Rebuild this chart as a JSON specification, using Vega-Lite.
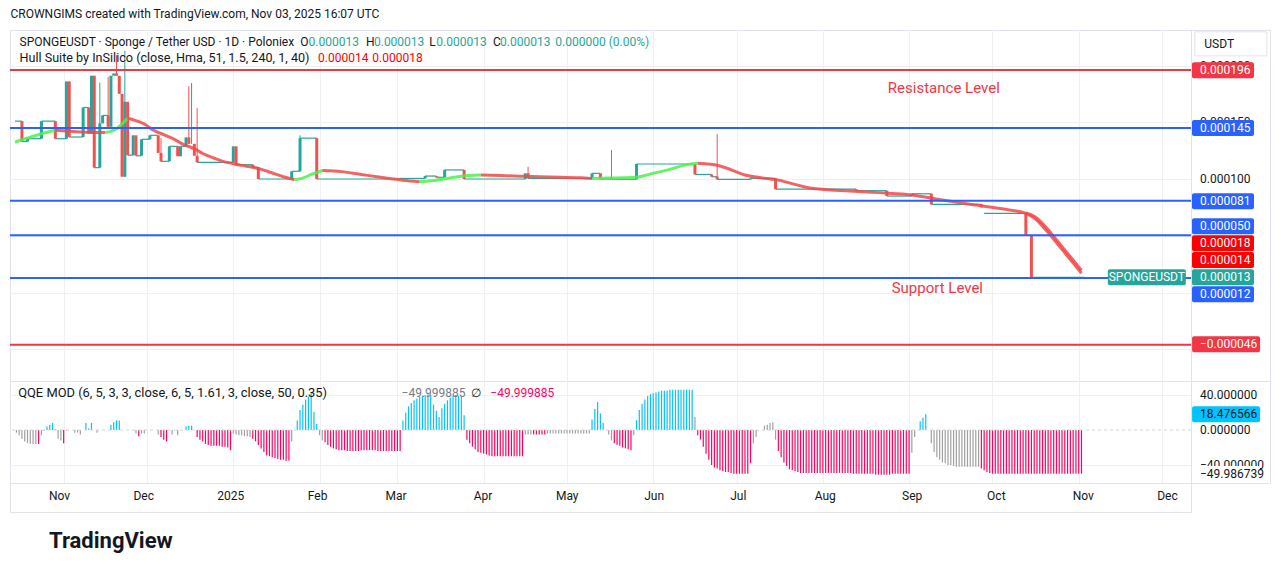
{
"$schema": "https://vega.github.io/schema/vega-lite/v6.json",
"background": "#ffffff",
"padding": {"left": 8, "top": 8, "right": 9, "bottom": 0},
"title": {"text": "CROWNGIMS created with TradingView.com, Nov 03, 2025 16:07 UTC", "anchor": "start", "fontSize": 12, "fontWeight": "normal", "color": "#131722", "offset": 8, "dx": 2},
"config": {
  "font": "Roboto",
  "view": {"stroke": "#e0e3eb", "strokeWidth": 1},
  "legend": {"disable": true},
  "axis": {"title": null, "labels": false, "ticks": false, "tickSize": 0, "domain": false, "grid": true, "gridColor": "#eef0f3", "labelColor": "#131722", "labelFontSize": 12}
},
"datasets": {
  "flats": [
    {"a":"2024-10-14T12:00:00Z","b":"2024-10-17","p":0.000151},
    {"a":"2024-10-17","b":"2024-10-19","p":0.000133},
    {"a":"2024-10-19","b":"2024-10-24","p":0.0001355},
    {"a":"2024-10-24","b":"2024-10-29","p":0.000151},
    {"a":"2024-10-29","b":"2024-11-02","p":0.0001355},
    {"a":"2024-11-03","b":"2024-11-08","p":0.000137},
    {"a":"2024-11-08","b":"2024-11-10","p":0.000163},
    {"a":"2024-11-12","b":"2024-11-14","p":0.00011},
    {"a":"2024-11-15","b":"2024-11-17","p":0.000156},
    {"a":"2024-11-24","b":"2024-11-26","p":0.000121},
    {"a":"2024-11-27","b":"2024-11-29","p":0.0001205},
    {"a":"2024-11-29","b":"2024-12-02","p":0.000135},
    {"a":"2024-12-02","b":"2024-12-05","p":0.0001385},
    {"a":"2024-12-06","b":"2024-12-09","p":0.0001156},
    {"a":"2024-12-09","b":"2024-12-12","p":0.0001288},
    {"a":"2024-12-13","b":"2024-12-15","p":0.0001288},
    {"a":"2024-12-19","b":"2025-01-01","p":0.0001147},
    {"a":"2025-01-02","b":"2025-01-08","p":0.0001126},
    {"a":"2025-01-08","b":"2025-01-10","p":0.0001103},
    {"a":"2025-01-10","b":"2025-01-22","p":0.0001},
    {"a":"2025-01-22","b":"2025-01-25","p":0.0001068},
    {"a":"2025-01-25","b":"2025-01-31","p":0.000136},
    {"a":"2025-01-31","b":"2025-03-02","p":0.0001},
    {"a":"2025-03-02","b":"2025-03-11","p":0.0001005},
    {"a":"2025-03-11","b":"2025-03-15","p":0.0001026},
    {"a":"2025-03-15","b":"2025-03-18","p":0.0001015},
    {"a":"2025-03-18","b":"2025-03-25","p":0.000108},
    {"a":"2025-03-25","b":"2025-04-16","p":0.0001},
    {"a":"2025-04-17","b":"2025-05-10","p":0.0001006},
    {"a":"2025-05-10","b":"2025-05-13","p":0.000105},
    {"a":"2025-05-13","b":"2025-05-17","p":0.0001},
    {"a":"2025-05-17","b":"2025-05-26","p":0.0000998},
    {"a":"2025-05-26","b":"2025-06-16","p":0.0001132},
    {"a":"2025-06-16","b":"2025-06-22","p":0.000104},
    {"a":"2025-06-22","b":"2025-06-24","p":0.000102},
    {"a":"2025-06-24","b":"2025-07-06","p":0.0000997},
    {"a":"2025-07-06","b":"2025-07-15","p":0.0001006},
    {"a":"2025-07-15","b":"2025-08-13","p":0.000091},
    {"a":"2025-08-13","b":"2025-08-24","p":0.0000897},
    {"a":"2025-08-24","b":"2025-09-02","p":0.000085},
    {"a":"2025-09-02","b":"2025-09-09","p":0.000087},
    {"a":"2025-09-09","b":"2025-09-27","p":0.0000777},
    {"a":"2025-09-28","b":"2025-10-13","p":0.0000698},
    {"a":"2025-10-15","b":"2025-11-03","p":0.0000134}
  ],
  "candles": [
    {"d":"2024-10-17","o":0.000151,"c":0.000133,"dir":"down"},
    {"d":"2024-10-19","o":0.000133,"c":0.0001355,"dir":"up"},
    {"d":"2024-10-24","o":0.0001355,"c":0.000151,"dir":"up"},
    {"d":"2024-10-29","o":0.000151,"c":0.0001355,"dir":"down"},
    {"d":"2024-11-02","o":0.0001355,"c":0.000186,"dir":"up"},
    {"d":"2024-11-03","o":0.000186,"c":0.000137,"dir":"down"},
    {"d":"2024-11-08","o":0.000137,"c":0.000163,"dir":"up"},
    {"d":"2024-11-10","o":0.000163,"c":0.00014,"dir":"down"},
    {"d":"2024-11-11","o":0.00014,"c":0.000191,"dir":"up"},
    {"d":"2024-11-12","o":0.000191,"c":0.00011,"dir":"down"},
    {"d":"2024-11-14","o":0.00011,"c":0.000149,"dir":"up","h":0.000185,"l":0.00011},
    {"d":"2024-11-15","o":0.000149,"c":0.000156,"dir":"up"},
    {"d":"2024-11-17","o":0.000156,"c":0.000146,"dir":"down","h":0.00019,"l":0.000146},
    {"d":"2024-11-18","o":0.000146,"c":0.000191,"dir":"up"},
    {"d":"2024-11-19","o":0.000191,"c":0.000193,"dir":"up"},
    {"d":"2024-11-20","o":0.000193,"c":0.000191,"dir":"down","h":0.000209,"l":0.000191},
    {"d":"2024-11-21","o":0.000191,"c":0.000175,"dir":"down"},
    {"d":"2024-11-22","o":0.000175,"c":0.000102,"dir":"down"},
    {"d":"2024-11-23","o":0.000102,"c":0.000168,"dir":"up","h":0.000213,"l":0.000102},
    {"d":"2024-11-24","o":0.000168,"c":0.000121,"dir":"down"},
    {"d":"2024-11-26","o":0.000121,"c":0.0001385,"dir":"up"},
    {"d":"2024-11-27","o":0.0001385,"c":0.0001205,"dir":"down"},
    {"d":"2024-11-29","o":0.0001205,"c":0.000135,"dir":"up"},
    {"d":"2024-12-02","o":0.000135,"c":0.0001385,"dir":"up"},
    {"d":"2024-12-05","o":0.0001385,"c":0.000123,"dir":"down"},
    {"d":"2024-12-06","o":0.000123,"c":0.0001156,"dir":"down","h":0.000136,"l":0.0001156},
    {"d":"2024-12-09","o":0.0001156,"c":0.0001288,"dir":"up"},
    {"d":"2024-12-12","o":0.0001288,"c":0.00012,"dir":"down"},
    {"d":"2024-12-13","o":0.00012,"c":0.0001288,"dir":"up"},
    {"d":"2024-12-15","o":0.0001288,"c":0.0001367,"dir":"up"},
    {"d":"2024-12-16","o":0.0001367,"c":0.000131,"dir":"down","h":0.0001817,"l":0.000131},
    {"d":"2024-12-17","o":0.000131,"c":0.000131,"dir":"up","h":0.0001846,"l":0.000131},
    {"d":"2024-12-18","o":0.000131,"c":0.0001205,"dir":"down"},
    {"d":"2024-12-19","o":0.0001205,"c":0.0001147,"dir":"down","h":0.0001626,"l":0.0001147},
    {"d":"2025-01-01","o":0.0001147,"c":0.0001288,"dir":"up"},
    {"d":"2025-01-02","o":0.0001288,"c":0.0001126,"dir":"down"},
    {"d":"2025-01-08","o":0.0001126,"c":0.0001103,"dir":"down"},
    {"d":"2025-01-10","o":0.0001103,"c":0.0001,"dir":"down"},
    {"d":"2025-01-22","o":0.0001,"c":0.0001068,"dir":"up"},
    {"d":"2025-01-25","o":0.0001068,"c":0.000136,"dir":"up","h":0.0001385,"l":0.0001068},
    {"d":"2025-01-31","o":0.000136,"c":0.0001,"dir":"down"},
    {"d":"2025-03-02","o":0.0001,"c":0.0001005,"dir":"up"},
    {"d":"2025-03-11","o":0.0001005,"c":0.0001026,"dir":"up"},
    {"d":"2025-03-15","o":0.0001026,"c":0.0001015,"dir":"down"},
    {"d":"2025-03-18","o":0.0001015,"c":0.000108,"dir":"up"},
    {"d":"2025-03-25","o":0.000108,"c":0.0001,"dir":"down"},
    {"d":"2025-04-16","o":0.0001,"c":0.000105,"dir":"up"},
    {"d":"2025-04-17","o":0.000105,"c":0.0001006,"dir":"down","h":0.0001108,"l":0.0001006},
    {"d":"2025-05-10","o":0.0001006,"c":0.000105,"dir":"up"},
    {"d":"2025-05-13","o":0.000105,"c":0.0001,"dir":"down"},
    {"d":"2025-05-17","o":0.0001013,"c":0.0000998,"dir":"down","h":0.0001256,"l":0.0000998},
    {"d":"2025-05-26","o":0.0000998,"c":0.0001132,"dir":"up"},
    {"d":"2025-06-16","o":0.0001132,"c":0.000104,"dir":"down"},
    {"d":"2025-06-22","o":0.000104,"c":0.000102,"dir":"down"},
    {"d":"2025-06-24","o":0.000102,"c":0.0000997,"dir":"down","h":0.0001396,"l":0.0000997},
    {"d":"2025-07-06","o":0.0000997,"c":0.0001006,"dir":"up"},
    {"d":"2025-07-15","o":0.0001006,"c":0.000091,"dir":"down"},
    {"d":"2025-08-13","o":0.000091,"c":0.0000897,"dir":"down"},
    {"d":"2025-08-24","o":0.0000897,"c":0.000085,"dir":"down"},
    {"d":"2025-09-02","o":0.000085,"c":0.000087,"dir":"up"},
    {"d":"2025-09-09","o":0.000087,"c":0.0000777,"dir":"down"},
    {"d":"2025-09-27","o":0.0000777,"c":0.000075,"dir":"down"},
    {"d":"2025-10-13","o":0.0000698,"c":0.0000507,"dir":"down"},
    {"d":"2025-10-15","o":0.0000507,"c":0.0000134,"dir":"down"}
  ],
  "hull": [
    {"d":"2024-10-14T12:00:00Z","v":0.0001325,"s":1,"dir":"up"},{"d":"2024-10-19","v":0.0001361,"s":1,"dir":"up"},{"d":"2024-10-25","v":0.0001405,"s":1,"dir":"up"},{"d":"2024-10-29","v":0.0001429,"s":1,"dir":"up"},
    {"d":"2024-10-29","v":0.0001429,"s":2,"dir":"down"},{"d":"2024-11-07","v":0.0001414,"s":2,"dir":"down"},{"d":"2024-11-16","v":0.0001409,"s":2,"dir":"down"},
    {"d":"2024-11-16","v":0.0001409,"s":3,"dir":"up"},{"d":"2024-11-20","v":0.0001443,"s":3,"dir":"up"},{"d":"2024-11-22","v":0.0001487,"s":3,"dir":"up"},{"d":"2024-11-24","v":0.0001535,"s":3,"dir":"up"},
    {"d":"2024-11-24","v":0.0001535,"s":4,"dir":"down"},{"d":"2024-11-26","v":0.0001522,"s":4,"dir":"down"},{"d":"2024-11-30","v":0.0001485,"s":4,"dir":"down"},{"d":"2024-12-03","v":0.0001434,"s":4,"dir":"down"},{"d":"2024-12-07","v":0.000139,"s":4,"dir":"down"},{"d":"2024-12-11","v":0.0001347,"s":4,"dir":"down"},{"d":"2024-12-14","v":0.0001305,"s":4,"dir":"down"},{"d":"2024-12-18","v":0.0001267,"s":4,"dir":"down"},{"d":"2024-12-21","v":0.0001225,"s":4,"dir":"down"},{"d":"2024-12-25","v":0.0001185,"s":4,"dir":"down"},{"d":"2024-12-28","v":0.0001158,"s":4,"dir":"down"},{"d":"2025-01-01","v":0.0001135,"s":4,"dir":"down"},{"d":"2025-01-04","v":0.000112,"s":4,"dir":"down"},{"d":"2025-01-08","v":0.0001103,"s":4,"dir":"down"},{"d":"2025-01-12","v":0.0001078,"s":4,"dir":"down"},{"d":"2025-01-15","v":0.0001053,"s":4,"dir":"down"},{"d":"2025-01-19","v":0.000102,"s":4,"dir":"down"},{"d":"2025-01-23","v":0.0000994,"s":4,"dir":"down"},
    {"d":"2025-01-23","v":0.0000994,"s":5,"dir":"up"},{"d":"2025-01-26","v":0.0001008,"s":5,"dir":"up"},{"d":"2025-01-29","v":0.000104,"s":5,"dir":"up"},{"d":"2025-02-02","v":0.0001075,"s":5,"dir":"up"},
    {"d":"2025-02-02","v":0.0001075,"s":6,"dir":"down"},{"d":"2025-02-09","v":0.0001065,"s":6,"dir":"down"},{"d":"2025-02-16","v":0.000104,"s":6,"dir":"down"},{"d":"2025-02-23","v":0.0001015,"s":6,"dir":"down"},{"d":"2025-03-03","v":0.000099,"s":6,"dir":"down"},{"d":"2025-03-09","v":0.0000976,"s":6,"dir":"down"},
    {"d":"2025-03-09","v":0.0000976,"s":7,"dir":"up"},{"d":"2025-03-13","v":0.0000985,"s":7,"dir":"up"},{"d":"2025-03-19","v":0.0001005,"s":7,"dir":"up"},{"d":"2025-03-24","v":0.0001025,"s":7,"dir":"up"},{"d":"2025-03-31","v":0.0001035,"s":7,"dir":"up"},
    {"d":"2025-03-31","v":0.0001035,"s":8,"dir":"down"},{"d":"2025-04-07","v":0.000103,"s":8,"dir":"down"},{"d":"2025-04-14","v":0.0001025,"s":8,"dir":"down"},{"d":"2025-04-21","v":0.000102,"s":8,"dir":"down"},{"d":"2025-04-29","v":0.0001015,"s":8,"dir":"down"},{"d":"2025-05-06","v":0.000101,"s":8,"dir":"down"},{"d":"2025-05-10","v":0.0001005,"s":8,"dir":"down"},
    {"d":"2025-05-10","v":0.0001005,"s":9,"dir":"up"},{"d":"2025-05-16","v":0.0001008,"s":9,"dir":"up"},{"d":"2025-05-22","v":0.000101,"s":9,"dir":"up"},{"d":"2025-05-27","v":0.000102,"s":9,"dir":"up"},{"d":"2025-06-01","v":0.000105,"s":9,"dir":"up"},{"d":"2025-06-07","v":0.0001085,"s":9,"dir":"up"},{"d":"2025-06-12","v":0.000112,"s":9,"dir":"up"},{"d":"2025-06-17","v":0.0001138,"s":9,"dir":"up"},
    {"d":"2025-06-17","v":0.0001138,"s":10,"dir":"down"},{"d":"2025-06-25","v":0.0001115,"s":10,"dir":"down"},{"d":"2025-07-04","v":0.0001035,"s":10,"dir":"down"},{"d":"2025-07-16","v":0.000099,"s":10,"dir":"down"},{"d":"2025-07-28","v":0.0000918,"s":10,"dir":"down"},{"d":"2025-08-09","v":0.0000897,"s":10,"dir":"down"},{"d":"2025-08-21","v":0.000088,"s":10,"dir":"down"},{"d":"2025-09-02","v":0.000086,"s":10,"dir":"down"},{"d":"2025-09-13","v":0.0000815,"s":10,"dir":"down"},{"d":"2025-09-25","v":0.000077,"s":10,"dir":"down"},{"d":"2025-10-07","v":0.0000727,"s":10,"dir":"down"},{"d":"2025-10-13","v":0.0000698,"s":10,"dir":"down"},{"d":"2025-10-16","v":0.0000655,"s":10,"dir":"down"},{"d":"2025-10-19","v":0.0000585,"s":10,"dir":"down"},{"d":"2025-10-22","v":0.00005,"s":10,"dir":"down"},{"d":"2025-10-25","v":0.000041,"s":10,"dir":"down"},{"d":"2025-10-28","v":0.000032,"s":10,"dir":"down"},{"d":"2025-10-31","v":0.000023,"s":10,"dir":"down"},{"d":"2025-11-02","v":0.000017,"s":10,"dir":"down"},
    {"d":"2025-10-13","v":0.0000702,"s":11,"dir":"down"},{"d":"2025-10-16","v":0.0000672,"s":11,"dir":"down"},{"d":"2025-10-19","v":0.0000608,"s":11,"dir":"down"},{"d":"2025-10-22","v":0.0000525,"s":11,"dir":"down"},{"d":"2025-10-25","v":0.0000435,"s":11,"dir":"down"},{"d":"2025-10-28","v":0.0000345,"s":11,"dir":"down"},{"d":"2025-10-31","v":0.0000255,"s":11,"dir":"down"},{"d":"2025-11-02","v":0.0000195,"s":11,"dir":"down"}
  ],
  "levels": [
    {"p":0.000196,"k":"res"},{"p":0.000145,"k":"lvl"},{"p":0.0000808,"k":"lvl"},{"p":0.0000505,"k":"lvl"},{"p":0.0000128,"k":"lvl"},{"p":-0.000046,"k":"res"}
  ],
  "notes": [
    {"d":"2025-09-13T12:00:00Z","p":0.0001802,"t":"Resistance Level"},
    {"d":"2025-09-11T04:00:00Z","p":0.000004,"t":"Support Level"}
  ],
  "plegend": [
    {"d":"2024-10-16T03:00:00Z","p":0.0002207,"t":"SPONGEUSDT · Sponge / Tether USD · 1D · Poloniex","k":"dark"},
    {"d":"2025-01-25T02:00:00Z","p":0.0002207,"t":"O","k":"dark"},
    {"d":"2025-01-28T02:00:00Z","p":0.0002207,"t":"0.000013","k":"teal"},
    {"d":"2025-02-17T17:00:00Z","p":0.0002207,"t":"H","k":"dark"},
    {"d":"2025-02-20T14:00:00Z","p":0.0002207,"t":"0.000013","k":"teal"},
    {"d":"2025-03-12T12:00:00Z","p":0.0002207,"t":"L","k":"dark"},
    {"d":"2025-03-15T00:00:00Z","p":0.0002207,"t":"0.000013","k":"teal"},
    {"d":"2025-04-04T10:00:00Z","p":0.0002207,"t":"C","k":"dark"},
    {"d":"2025-04-06T22:00:00Z","p":0.0002207,"t":"0.000013","k":"teal"},
    {"d":"2025-04-26T19:00:00Z","p":0.0002207,"t":"0.000000 (0.00%)","k":"teal"},
    {"d":"2024-10-16T03:00:00Z","p":0.0002066,"t":"Hull Suite by InSilico (close, Hma, 51, 1.5, 240, 1, 40)","k":"dark"},
    {"d":"2025-01-31T12:00:00Z","p":0.0002066,"t":"0.000014","k":"red"},
    {"d":"2025-02-20T00:00:00Z","p":0.0002066,"t":"0.000018","k":"red"}
  ],
  "last": [{"d":"2025-11-25T12:00:00Z","p":0.0000134,"t":"SPONGEUSDT"}],
  "ptags": [
    {"p":0.0002,"t":"0.000200","k":"plain"},
    {"p":0.00015,"t":"0.000150","k":"plain"},
    {"p":0.0001,"t":"0.000100","k":"plain"},
    {"p":0.0001958,"t":"0.000196","k":"red"},
    {"p":0.0001449,"t":"0.000145","k":"blue"},
    {"p":0.0000804,"t":"0.000081","k":"blue"},
    {"p":0.0000583,"t":"0.000050","k":"blue"},
    {"p":0.0000433,"t":"0.000018","k":"hot"},
    {"p":0.0000286,"t":"0.000014","k":"hot"},
    {"p":0.0000134,"t":"0.000013","k":"teal"},
    {"p":-0.0000016,"t":"0.000012","k":"blue"},
    {"p":-0.0000456,"t":"−0.000046","k":"red"}
  ],
  "unit": [{"p":0.0002191,"t":"USDT"}],
  "qtags": [
    {"p":40,"t":"40.000000","k":"plain"},
    {"p":0,"t":"0.000000","k":"plain"},
    {"p":-40,"t":"−40.000000","k":"plain"},
    {"p":18,"t":"18.476566","k":"cyan"},
    {"p":-50.3,"t":"−49.986739","k":"white"}
  ],
  "qlegend": [
    {"d":"2024-10-15T15:00:00Z","p":42.3,"t":"QQE MOD (6, 5, 3, 3, close, 6, 5, 1.61, 3, close, 50, 0.35)","k":"dark"},
    {"d":"2025-03-02T12:00:00Z","p":42.3,"t":"−49.999885","k":"gray"},
    {"d":"2025-03-27T09:00:00Z","p":42.3,"t":"∅","k":"dark"},
    {"d":"2025-04-03T10:00:00Z","p":42.3,"t":"−49.999885","k":"pink"}
  ],
  "qqe": [
    {"d":"2024-10-15","v":-3,"k":"g"},{"d":"2024-10-16","v":-6,"k":"g"},{"d":"2024-10-17","v":-10,"k":"g"},{"d":"2024-10-18","v":-13,"k":"g"},{"d":"2024-10-19","v":-15,"k":"g"},{"d":"2024-10-20","v":-16,"k":"g"},{"d":"2024-10-21","v":-16,"k":"g"},{"d":"2024-10-22","v":-16,"k":"g"},{"d":"2024-10-23","v":-16,"k":"r"},{"d":"2024-10-24","v":-6,"k":"g"},{"d":"2024-10-25","v":-1,"k":"g"},{"d":"2024-10-26","v":4,"k":"b"},{"d":"2024-10-27","v":6,"k":"b"},{"d":"2024-10-28","v":8,"k":"b"},{"d":"2024-10-29","v":1,"k":"g"},{"d":"2024-10-30","v":-10,"k":"g"},{"d":"2024-10-31","v":-12,"k":"g"},
    {"d":"2024-11-01","v":-15,"k":"r"},{"d":"2024-11-02","v":-1,"k":"g"},{"d":"2024-11-05","v":-3,"k":"g"},{"d":"2024-11-06","v":-3,"k":"g"},{"d":"2024-11-07","v":-5,"k":"g"},{"d":"2024-11-09","v":8,"k":"b"},{"d":"2024-11-10","v":2,"k":"g"},{"d":"2024-11-11","v":8,"k":"b"},{"d":"2024-11-13","v":-3,"k":"g"},{"d":"2024-11-18","v":6,"k":"b"},{"d":"2024-11-19","v":9,"k":"b"},{"d":"2024-11-20","v":11,"k":"b"},{"d":"2024-11-21","v":11,"k":"b"},{"d":"2024-11-27","v":-4,"k":"g"},{"d":"2024-11-28","v":-7,"k":"r"},{"d":"2024-11-29","v":-4,"k":"g"},{"d":"2024-11-30","v":-4,"k":"g"},
    {"d":"2024-12-05","v":-5,"k":"g"},{"d":"2024-12-06","v":-8,"k":"r"},{"d":"2024-12-07","v":-11,"k":"r"},{"d":"2024-12-08","v":-13,"k":"r"},{"d":"2024-12-10","v":-5,"k":"g"},{"d":"2024-12-12","v":-6,"k":"g"},{"d":"2024-12-15","v":4,"k":"b"},{"d":"2024-12-16","v":5,"k":"b"},{"d":"2024-12-17","v":5,"k":"b"},{"d":"2024-12-19","v":-8,"k":"r"},{"d":"2024-12-20","v":-11,"k":"r"},{"d":"2024-12-21","v":-13,"k":"r"},{"d":"2024-12-22","v":-16,"k":"r"},{"d":"2024-12-23","v":-17,"k":"r"},{"d":"2024-12-24","v":-18,"k":"r"},{"d":"2024-12-25","v":-18,"k":"r"},{"d":"2024-12-26","v":-18,"k":"r"},{"d":"2024-12-27","v":-18,"k":"r"},{"d":"2024-12-28","v":-19,"k":"r"},{"d":"2024-12-29","v":-19,"k":"r"},{"d":"2024-12-30","v":-20,"k":"r"},{"d":"2024-12-31","v":-23,"k":"r"},
    {"d":"2025-01-01","v":-4,"k":"g"},{"d":"2025-01-02","v":-5,"k":"g"},{"d":"2025-01-03","v":-6,"k":"g"},{"d":"2025-01-04","v":-6,"k":"g"},{"d":"2025-01-05","v":-7,"k":"g"},{"d":"2025-01-06","v":-7,"k":"g"},{"d":"2025-01-07","v":-8,"k":"g"},{"d":"2025-01-08","v":-10,"k":"r"},{"d":"2025-01-09","v":-13,"k":"r"},{"d":"2025-01-10","v":-17,"k":"r"},{"d":"2025-01-11","v":-21,"k":"r"},{"d":"2025-01-12","v":-25,"k":"r"},{"d":"2025-01-13","v":-29,"k":"r"},{"d":"2025-01-14","v":-30,"k":"r"},{"d":"2025-01-15","v":-31,"k":"r"},{"d":"2025-01-16","v":-32,"k":"r"},{"d":"2025-01-17","v":-33,"k":"r"},{"d":"2025-01-18","v":-34,"k":"r"},{"d":"2025-01-19","v":-34,"k":"r"},{"d":"2025-01-20","v":-35,"k":"r"},{"d":"2025-01-21","v":-35,"k":"r"},{"d":"2025-01-22","v":-13,"k":"g"},{"d":"2025-01-24","v":11,"k":"b"},{"d":"2025-01-25","v":23,"k":"b"},{"d":"2025-01-26","v":29,"k":"b"},{"d":"2025-01-27","v":35,"k":"b"},{"d":"2025-01-28","v":38,"k":"b"},{"d":"2025-01-29","v":42,"k":"b"},{"d":"2025-01-30","v":21,"k":"b"},{"d":"2025-01-31","v":7,"k":"b"},
    {"d":"2025-02-01","v":-6,"k":"g"},{"d":"2025-02-02","v":-12,"k":"g"},{"d":"2025-02-03","v":-14,"k":"r"},{"d":"2025-02-04","v":-17,"k":"r"},{"d":"2025-02-05","v":-19,"k":"r"},{"d":"2025-02-06","v":-21,"k":"r"},{"d":"2025-02-07","v":-22,"k":"r"},{"d":"2025-02-08","v":-23,"k":"r"},{"d":"2025-02-09","v":-23,"k":"r"},{"d":"2025-02-10","v":-23,"k":"r"},{"d":"2025-02-11","v":-24,"k":"r"},{"d":"2025-02-12","v":-24,"k":"r"},{"d":"2025-02-13","v":-24,"k":"r"},{"d":"2025-02-14","v":-24,"k":"r"},{"d":"2025-02-15","v":-24,"k":"r"},{"d":"2025-02-16","v":-23,"k":"r"},{"d":"2025-02-17","v":-23,"k":"r"},{"d":"2025-02-18","v":-23,"k":"r"},{"d":"2025-02-19","v":-23,"k":"r"},{"d":"2025-02-20","v":-23,"k":"r"},{"d":"2025-02-21","v":-23,"k":"r"},{"d":"2025-02-22","v":-24,"k":"r"},{"d":"2025-02-23","v":-24,"k":"r"},{"d":"2025-02-24","v":-24,"k":"r"},{"d":"2025-02-25","v":-24,"k":"r"},{"d":"2025-02-26","v":-24,"k":"r"},{"d":"2025-02-27","v":-24,"k":"r"},{"d":"2025-02-28","v":-24,"k":"r"},
    {"d":"2025-03-01","v":-24,"k":"r"},{"d":"2025-03-02","v":-24,"k":"r"},{"d":"2025-03-03","v":11,"k":"b"},{"d":"2025-03-04","v":20,"k":"b"},{"d":"2025-03-05","v":27,"k":"b"},{"d":"2025-03-06","v":31,"k":"b"},{"d":"2025-03-07","v":34,"k":"b"},{"d":"2025-03-08","v":36,"k":"b"},{"d":"2025-03-09","v":38,"k":"b"},{"d":"2025-03-10","v":39,"k":"b"},{"d":"2025-03-11","v":40,"k":"b"},{"d":"2025-03-12","v":41,"k":"b"},{"d":"2025-03-13","v":40,"k":"b"},{"d":"2025-03-14","v":29,"k":"b"},{"d":"2025-03-15","v":22,"k":"b"},{"d":"2025-03-16","v":15,"k":"b"},{"d":"2025-03-17","v":25,"k":"b"},{"d":"2025-03-18","v":30,"k":"b"},{"d":"2025-03-19","v":34,"k":"b"},{"d":"2025-03-20","v":37,"k":"b"},{"d":"2025-03-21","v":39,"k":"b"},{"d":"2025-03-22","v":40,"k":"b"},{"d":"2025-03-23","v":39,"k":"b"},{"d":"2025-03-24","v":38,"k":"b"},{"d":"2025-03-25","v":17,"k":"b"},{"d":"2025-03-26","v":-11,"k":"r"},{"d":"2025-03-27","v":-15,"k":"r"},{"d":"2025-03-28","v":-19,"k":"r"},{"d":"2025-03-29","v":-22,"k":"r"},{"d":"2025-03-30","v":-25,"k":"r"},{"d":"2025-03-31","v":-26,"k":"r"},
    {"d":"2025-04-01","v":-27,"k":"r"},{"d":"2025-04-02","v":-28,"k":"r"},{"d":"2025-04-03","v":-29,"k":"r"},{"d":"2025-04-04","v":-30,"k":"r"},{"d":"2025-04-05","v":-30,"k":"r"},{"d":"2025-04-06","v":-30,"k":"r"},{"d":"2025-04-07","v":-30,"k":"r"},{"d":"2025-04-08","v":-30,"k":"r"},{"d":"2025-04-09","v":-30,"k":"r"},{"d":"2025-04-10","v":-30,"k":"r"},{"d":"2025-04-11","v":-30,"k":"r"},{"d":"2025-04-12","v":-30,"k":"r"},{"d":"2025-04-13","v":-30,"k":"r"},{"d":"2025-04-14","v":-30,"k":"r"},{"d":"2025-04-15","v":-30,"k":"r"},{"d":"2025-04-16","v":-5,"k":"g"},{"d":"2025-04-17","v":-5,"k":"g"},{"d":"2025-04-18","v":-5,"k":"g"},{"d":"2025-04-19","v":-5,"k":"r"},{"d":"2025-04-20","v":-5,"k":"r"},{"d":"2025-04-21","v":-5,"k":"r"},{"d":"2025-04-22","v":-5,"k":"r"},{"d":"2025-04-23","v":-5,"k":"r"},{"d":"2025-04-24","v":-4,"k":"g"},{"d":"2025-04-25","v":-4,"k":"g"},{"d":"2025-04-26","v":-4,"k":"g"},{"d":"2025-04-27","v":-4,"k":"g"},{"d":"2025-04-28","v":-4,"k":"g"},{"d":"2025-04-29","v":-4,"k":"g"},{"d":"2025-04-30","v":-4,"k":"g"},
    {"d":"2025-05-01","v":-4,"k":"g"},{"d":"2025-05-02","v":-4,"k":"g"},{"d":"2025-05-03","v":-4,"k":"g"},{"d":"2025-05-04","v":-4,"k":"g"},{"d":"2025-05-05","v":-4,"k":"g"},{"d":"2025-05-06","v":-4,"k":"g"},{"d":"2025-05-07","v":-4,"k":"g"},{"d":"2025-05-08","v":-4,"k":"g"},{"d":"2025-05-09","v":-4,"k":"g"},{"d":"2025-05-10","v":12,"k":"b"},{"d":"2025-05-11","v":24,"k":"b"},{"d":"2025-05-12","v":32,"k":"b"},{"d":"2025-05-13","v":19,"k":"b"},{"d":"2025-05-14","v":8,"k":"b"},{"d":"2025-05-16","v":-5,"k":"g"},{"d":"2025-05-17","v":-12,"k":"g"},{"d":"2025-05-18","v":-15,"k":"r"},{"d":"2025-05-19","v":-17,"k":"r"},{"d":"2025-05-20","v":-18,"k":"r"},{"d":"2025-05-21","v":-20,"k":"r"},{"d":"2025-05-22","v":-21,"k":"r"},{"d":"2025-05-23","v":-22,"k":"r"},{"d":"2025-05-24","v":-23,"k":"r"},{"d":"2025-05-25","v":-6,"k":"g"},{"d":"2025-05-26","v":11,"k":"b"},{"d":"2025-05-27","v":23,"k":"b"},{"d":"2025-05-28","v":30,"k":"b"},{"d":"2025-05-29","v":35,"k":"b"},{"d":"2025-05-30","v":39,"k":"b"},{"d":"2025-05-31","v":41,"k":"b"},
    {"d":"2025-06-01","v":42,"k":"b"},{"d":"2025-06-02","v":43,"k":"b"},{"d":"2025-06-03","v":44,"k":"b"},{"d":"2025-06-04","v":45,"k":"b"},{"d":"2025-06-05","v":45,"k":"b"},{"d":"2025-06-06","v":45,"k":"b"},{"d":"2025-06-07","v":46,"k":"b"},{"d":"2025-06-08","v":46,"k":"b"},{"d":"2025-06-09","v":46,"k":"b"},{"d":"2025-06-10","v":46,"k":"b"},{"d":"2025-06-11","v":46,"k":"b"},{"d":"2025-06-12","v":46,"k":"b"},{"d":"2025-06-13","v":46,"k":"b"},{"d":"2025-06-14","v":46,"k":"b"},{"d":"2025-06-15","v":46,"k":"b"},{"d":"2025-06-16","v":15,"k":"g"},{"d":"2025-06-17","v":-6,"k":"r"},{"d":"2025-06-18","v":-11,"k":"r"},{"d":"2025-06-19","v":-19,"k":"r"},{"d":"2025-06-20","v":-27,"k":"r"},{"d":"2025-06-21","v":-34,"k":"r"},{"d":"2025-06-22","v":-40,"k":"r"},{"d":"2025-06-23","v":-43,"k":"r"},{"d":"2025-06-24","v":-44,"k":"r"},{"d":"2025-06-25","v":-46,"k":"r"},{"d":"2025-06-26","v":-47,"k":"r"},{"d":"2025-06-27","v":-48,"k":"r"},{"d":"2025-06-28","v":-48,"k":"r"},{"d":"2025-06-29","v":-49,"k":"r"},{"d":"2025-06-30","v":-50,"k":"r"},
    {"d":"2025-07-01","v":-50,"k":"r"},{"d":"2025-07-02","v":-50,"k":"r"},{"d":"2025-07-03","v":-50,"k":"r"},{"d":"2025-07-04","v":-50,"k":"r"},{"d":"2025-07-05","v":-50,"k":"r"},{"d":"2025-07-06","v":-38,"k":"r"},{"d":"2025-07-07","v":-15,"k":"g"},{"d":"2025-07-08","v":-8,"k":"g"},{"d":"2025-07-11","v":5,"k":"g"},{"d":"2025-07-12","v":6,"k":"g"},{"d":"2025-07-13","v":8,"k":"g"},{"d":"2025-07-14","v":9,"k":"g"},{"d":"2025-07-15","v":-11,"k":"g"},{"d":"2025-07-16","v":-24,"k":"r"},{"d":"2025-07-17","v":-31,"k":"r"},{"d":"2025-07-18","v":-37,"k":"r"},{"d":"2025-07-19","v":-41,"k":"r"},{"d":"2025-07-20","v":-45,"k":"r"},{"d":"2025-07-21","v":-46,"k":"r"},{"d":"2025-07-22","v":-47,"k":"r"},{"d":"2025-07-23","v":-48,"k":"r"},{"d":"2025-07-24","v":-49,"k":"r"},{"d":"2025-07-25","v":-49,"k":"r"},{"d":"2025-07-26","v":-49,"k":"r"},{"d":"2025-07-27","v":-49,"k":"r"},{"d":"2025-07-28","v":-49,"k":"r"},{"d":"2025-07-29","v":-49,"k":"r"},{"d":"2025-07-30","v":-49,"k":"r"},{"d":"2025-07-31","v":-49,"k":"r"},
    {"d":"2025-08-01","v":-49,"k":"r"},{"d":"2025-08-02","v":-49,"k":"r"},{"d":"2025-08-03","v":-49,"k":"r"},{"d":"2025-08-04","v":-49,"k":"r"},{"d":"2025-08-05","v":-49,"k":"r"},{"d":"2025-08-06","v":-49,"k":"r"},{"d":"2025-08-07","v":-49,"k":"r"},{"d":"2025-08-08","v":-49,"k":"r"},{"d":"2025-08-09","v":-49,"k":"r"},{"d":"2025-08-10","v":-49,"k":"r"},{"d":"2025-08-11","v":-49,"k":"r"},{"d":"2025-08-12","v":-50,"k":"r"},{"d":"2025-08-13","v":-50,"k":"r"},{"d":"2025-08-14","v":-50,"k":"r"},{"d":"2025-08-15","v":-50,"k":"r"},{"d":"2025-08-16","v":-50,"k":"r"},{"d":"2025-08-17","v":-50,"k":"r"},{"d":"2025-08-18","v":-50,"k":"r"},{"d":"2025-08-19","v":-50,"k":"r"},{"d":"2025-08-20","v":-51,"k":"r"},{"d":"2025-08-21","v":-51,"k":"r"},{"d":"2025-08-22","v":-51,"k":"r"},{"d":"2025-08-23","v":-51,"k":"r"},{"d":"2025-08-24","v":-51,"k":"r"},{"d":"2025-08-25","v":-51,"k":"r"},{"d":"2025-08-26","v":-50,"k":"r"},{"d":"2025-08-27","v":-50,"k":"r"},{"d":"2025-08-28","v":-50,"k":"r"},{"d":"2025-08-29","v":-50,"k":"r"},{"d":"2025-08-30","v":-50,"k":"r"},{"d":"2025-08-31","v":-50,"k":"r"},
    {"d":"2025-09-01","v":-50,"k":"r"},{"d":"2025-09-02","v":-26,"k":"g"},{"d":"2025-09-03","v":-8,"k":"g"},{"d":"2025-09-05","v":10,"k":"b"},{"d":"2025-09-06","v":14,"k":"b"},{"d":"2025-09-07","v":18,"k":"b"},{"d":"2025-09-09","v":-15,"k":"g"},{"d":"2025-09-10","v":-25,"k":"g"},{"d":"2025-09-11","v":-31,"k":"g"},{"d":"2025-09-12","v":-34,"k":"g"},{"d":"2025-09-13","v":-37,"k":"g"},{"d":"2025-09-14","v":-38,"k":"g"},{"d":"2025-09-15","v":-40,"k":"g"},{"d":"2025-09-16","v":-40,"k":"g"},{"d":"2025-09-17","v":-41,"k":"g"},{"d":"2025-09-18","v":-42,"k":"g"},{"d":"2025-09-19","v":-42,"k":"g"},{"d":"2025-09-20","v":-42,"k":"g"},{"d":"2025-09-21","v":-42,"k":"g"},{"d":"2025-09-22","v":-42,"k":"g"},{"d":"2025-09-23","v":-42,"k":"g"},{"d":"2025-09-24","v":-42,"k":"g"},{"d":"2025-09-25","v":-42,"k":"g"},{"d":"2025-09-26","v":-42,"k":"g"},{"d":"2025-09-27","v":-44,"k":"r"},{"d":"2025-09-28","v":-46,"k":"r"},{"d":"2025-09-29","v":-48,"k":"r"},{"d":"2025-09-30","v":-49,"k":"r"},
    {"d":"2025-10-01","v":-50,"k":"r"},{"d":"2025-10-02","v":-50,"k":"r"},{"d":"2025-10-03","v":-50,"k":"r"},{"d":"2025-10-04","v":-50,"k":"r"},{"d":"2025-10-05","v":-50,"k":"r"},{"d":"2025-10-06","v":-50,"k":"r"},{"d":"2025-10-07","v":-50,"k":"r"},{"d":"2025-10-08","v":-50,"k":"r"},{"d":"2025-10-09","v":-50,"k":"r"},{"d":"2025-10-10","v":-50,"k":"r"},{"d":"2025-10-11","v":-50,"k":"r"},{"d":"2025-10-12","v":-50,"k":"r"},{"d":"2025-10-13","v":-50,"k":"r"},{"d":"2025-10-14","v":-50,"k":"r"},{"d":"2025-10-15","v":-50,"k":"r"},{"d":"2025-10-16","v":-50,"k":"r"},{"d":"2025-10-17","v":-50,"k":"r"},{"d":"2025-10-18","v":-50,"k":"r"},{"d":"2025-10-19","v":-50,"k":"r"},{"d":"2025-10-20","v":-50,"k":"r"},{"d":"2025-10-21","v":-50,"k":"r"},{"d":"2025-10-22","v":-50,"k":"r"},{"d":"2025-10-23","v":-50,"k":"r"},{"d":"2025-10-24","v":-50,"k":"r"},{"d":"2025-10-25","v":-50,"k":"r"},{"d":"2025-10-26","v":-50,"k":"r"},{"d":"2025-10-27","v":-50,"k":"r"},{"d":"2025-10-28","v":-50,"k":"r"},{"d":"2025-10-29","v":-50,"k":"r"},{"d":"2025-10-30","v":-50,"k":"r"},{"d":"2025-10-31","v":-50,"k":"r"},
    {"d":"2025-11-01","v":-50,"k":"r"},{"d":"2025-11-02","v":-50,"k":"r"}
  ]
},
"bounds": "flush",
"spacing": 0,
"columns": 2,
"align": "each",
"concat": [
    {"width": 1181, "height": 351,
     "resolve": {"scale": {"color": "independent"}},
     "layer": [
       {"data": {"name": "flats"}, "mark": {"type": "rule", "color": "#26a69a", "strokeWidth": 1.2},
        "encoding": {
          "x": {"field": "a", "type": "temporal", "scale": {"type": "utc", "domain": [{"year":2024,"month":10,"date":14,"hours":12,"utc":true},{"year":2025,"month":12,"date":9,"hours":14,"utc":true}]},
                "axis": {"values": [{"year":2024,"month":11,"date":1,"utc":true},{"year":2024,"month":12,"date":1,"utc":true},{"year":2025,"month":1,"date":1,"utc":true},{"year":2025,"month":2,"date":1,"utc":true},{"year":2025,"month":3,"date":1,"utc":true},{"year":2025,"month":4,"date":1,"utc":true},{"year":2025,"month":5,"date":1,"utc":true},{"year":2025,"month":6,"date":1,"utc":true},{"year":2025,"month":7,"date":1,"utc":true},{"year":2025,"month":8,"date":1,"utc":true},{"year":2025,"month":9,"date":1,"utc":true},{"year":2025,"month":10,"date":1,"utc":true},{"year":2025,"month":11,"date":1,"utc":true},{"year":2025,"month":12,"date":1,"utc":true}]}},
          "x2": {"field": "b"},
          "y": {"field": "p", "type": "quantitative", "scale": {"domain": [-0.00007797, 0.00023128], "nice": false, "zero": false},
                "axis": {"values": [-0.00005, 0, 0.00005, 0.0001, 0.00015, 0.0002]}}
        }},
       {"data": {"name": "candles"}, "transform": [{"filter": "isValid(datum.h)"}], "mark": {"type": "rule", "strokeWidth": 1},
        "encoding": {"x": {"field": "d", "type": "temporal"}, "y": {"field": "h", "type": "quantitative"}, "y2": {"field": "l"},
          "color": {"field": "dir", "type": "nominal", "scale": {"domain": ["up", "down"], "range": ["#26a69a", "#ef5350"]}}}},
       {"data": {"name": "candles"}, "mark": {"type": "bar", "width": 3},
        "encoding": {"x": {"field": "d", "type": "temporal"}, "y": {"field": "o", "type": "quantitative"}, "y2": {"field": "c"},
          "color": {"field": "dir", "type": "nominal", "scale": {"domain": ["up", "down"], "range": ["#26a69a", "#ef5350"]}}}},
       {"data": {"name": "hull"}, "mark": {"type": "line", "strokeWidth": 3, "interpolate": "monotone", "opacity": 0.85},
        "encoding": {"x": {"field": "d", "type": "temporal"}, "y": {"field": "v", "type": "quantitative"},
          "color": {"field": "dir", "type": "nominal", "scale": {"domain": ["up", "down"], "range": ["#4cf04c", "#f24848"]}},
          "detail": {"field": "s", "type": "nominal"}}},
       {"data": {"name": "levels"}, "mark": {"type": "rule", "strokeWidth": 2},
        "encoding": {"y": {"field": "p", "type": "quantitative"},
          "color": {"field": "k", "type": "nominal", "scale": {"domain": ["res", "lvl"], "range": ["#f23645", "#2962ff"]}}}},
       {"data": {"name": "notes"}, "mark": {"type": "text", "fontSize": 15, "color": "#f23645", "align": "center", "baseline": "middle"},
        "encoding": {"x": {"field": "d", "type": "temporal"}, "y": {"field": "p", "type": "quantitative"}, "text": {"field": "t"}}},
       {"data": {"name": "plegend"}, "transform": [{"filter": "indexof(datum.t, 'Hull') != 0"}], "mark": {"type": "text", "fontSize": 12, "align": "left", "baseline": "middle"},
        "encoding": {"x": {"field": "d", "type": "temporal"}, "y": {"field": "p", "type": "quantitative"}, "text": {"field": "t"},
          "color": {"field": "k", "type": "nominal", "scale": {"domain": ["dark", "teal", "red"], "range": ["#131722", "#26a69a", "#ff0000"]}}}},
       {"data": {"name": "plegend"}, "transform": [{"filter": "indexof(datum.t, 'Hull') == 0"}], "mark": {"type": "text", "fontSize": 12.6, "align": "left", "baseline": "middle", "color": "#131722"},
        "encoding": {"x": {"field": "d", "type": "temporal"}, "y": {"field": "p", "type": "quantitative"}, "text": {"field": "t"}}},
       {"data": {"name": "last"}, "mark": {"type": "tick", "orient": "horizontal", "size": 78, "thickness": 16, "cornerRadius": 2, "color": "#26a69a", "opacity": 1},
        "encoding": {"x": {"field": "d", "type": "temporal"}, "y": {"field": "p", "type": "quantitative"}}},
       {"data": {"name": "last"}, "mark": {"type": "text", "fontSize": 12, "color": "#ffffff", "align": "center", "baseline": "middle"},
        "encoding": {"x": {"field": "d", "type": "temporal"}, "y": {"field": "p", "type": "quantitative"}, "text": {"field": "t"}}}
     ]},
    {"width": 79, "height": 351,
     "resolve": {"scale": {"color": "independent"}},
     "layer": [
       {"data": {"name": "unit"}, "mark": {"type": "point", "shape": "M-36,-12H36V12H-36Z", "size": 4, "filled": true, "fill": "#ffffff", "stroke": "#e0e3eb", "strokeWidth": 1, "opacity": 1},
        "encoding": {"x": {"datum": 0.504, "type": "quantitative", "scale": {"domain": [0, 1]}, "axis": null},
          "y": {"field": "p", "type": "quantitative", "scale": {"domain": [-0.00007797, 0.00023128], "nice": false, "zero": false}, "axis": null}}},
       {"data": {"name": "unit"}, "mark": {"type": "text", "fontSize": 12, "align": "left", "baseline": "middle", "color": "#131722"},
        "encoding": {"x": {"datum": 0.168, "type": "quantitative"}, "y": {"field": "p", "type": "quantitative"}, "text": {"field": "t"}}},
       {"data": {"name": "ptags"}, "transform": [{"filter": "datum.k == 'plain'"}], "mark": {"type": "text", "fontSize": 12, "align": "left", "baseline": "middle", "color": "#131722"},
        "encoding": {"x": {"datum": 0.114, "type": "quantitative"}, "y": {"field": "p", "type": "quantitative"}, "text": {"field": "t"}}},
       {"data": {"name": "ptags"}, "transform": [{"filter": "datum.k != 'plain' && length(datum.t) <= 8"}], "mark": {"type": "tick", "orient": "horizontal", "size": 62, "thickness": 16, "cornerRadius": 2, "opacity": 1},
        "encoding": {"x": {"datum": 0.405, "type": "quantitative"}, "y": {"field": "p", "type": "quantitative"},
          "color": {"field": "k", "type": "nominal", "scale": {"domain": ["red", "blue", "hot", "teal", "cyan", "white"], "range": ["#f23645", "#2962ff", "#ff0000", "#26a69a", "#00c3ff", "#ffffff"]}}}},
       {"data": {"name": "ptags"}, "transform": [{"filter": "datum.k != 'plain' && length(datum.t) > 8"}], "mark": {"type": "tick", "orient": "horizontal", "size": 68, "thickness": 16, "cornerRadius": 2, "opacity": 1},
        "encoding": {"x": {"datum": 0.444, "type": "quantitative"}, "y": {"field": "p", "type": "quantitative"},
          "color": {"field": "k", "type": "nominal", "scale": {"domain": ["red", "blue", "hot", "teal", "cyan", "white"], "range": ["#f23645", "#2962ff", "#ff0000", "#26a69a", "#00c3ff", "#ffffff"]}}}},
       {"data": {"name": "ptags"}, "transform": [{"filter": "datum.k != 'plain'"}], "mark": {"type": "text", "fontSize": 12, "align": "left", "baseline": "middle"},
        "encoding": {"x": {"datum": 0.114, "type": "quantitative"}, "y": {"field": "p", "type": "quantitative"}, "text": {"field": "t"},
          "color": {"field": "k", "type": "nominal", "scale": {"domain": ["red", "blue", "hot", "teal", "cyan", "white"], "range": ["#ffffff", "#ffffff", "#ffffff", "#ffffff", "#131722", "#131722"]}}}}
     ]},
    {"width": 1181, "height": 102,
     "resolve": {"scale": {"color": "independent"}},
     "layer": [
       {"data": {"name": "qqe"}, "mark": {"type": "bar", "width": 1.2},
        "encoding": {
          "x": {"field": "d", "type": "temporal", "scale": {"type": "utc", "domain": [{"year":2024,"month":10,"date":14,"hours":12,"utc":true},{"year":2025,"month":12,"date":9,"hours":14,"utc":true}]},
                "axis": {"values": [{"year":2024,"month":11,"date":1,"utc":true},{"year":2024,"month":12,"date":1,"utc":true},{"year":2025,"month":1,"date":1,"utc":true},{"year":2025,"month":2,"date":1,"utc":true},{"year":2025,"month":3,"date":1,"utc":true},{"year":2025,"month":4,"date":1,"utc":true},{"year":2025,"month":5,"date":1,"utc":true},{"year":2025,"month":6,"date":1,"utc":true},{"year":2025,"month":7,"date":1,"utc":true},{"year":2025,"month":8,"date":1,"utc":true},{"year":2025,"month":9,"date":1,"utc":true},{"year":2025,"month":10,"date":1,"utc":true},{"year":2025,"month":11,"date":1,"utc":true},{"year":2025,"month":12,"date":1,"utc":true}]}},
          "y": {"field": "v", "type": "quantitative", "scale": {"domain": [-60.57, 56], "nice": false, "zero": false}, "axis": {"values": [-40, 40]}},
          "y2": {"datum": 0},
          "color": {"field": "k", "type": "nominal", "scale": {"domain": ["g", "b", "r"], "range": ["#a0a0a0", "#00c3ff", "#ff0062"]}}
        }},
       {"data": {"values": [{}]}, "mark": {"type": "rule", "color": "#d1d4dc", "strokeDash": [3, 3], "strokeWidth": 1},
        "encoding": {"y": {"datum": 0, "type": "quantitative"}}},
       {"data": {"name": "qlegend"}, "transform": [{"filter": "indexof(datum.t, 'QQE') != 0"}], "mark": {"type": "text", "fontSize": 12, "align": "left", "baseline": "middle"},
        "encoding": {"x": {"field": "d", "type": "temporal"}, "y": {"field": "p", "type": "quantitative"}, "text": {"field": "t"},
          "color": {"field": "k", "type": "nominal", "scale": {"domain": ["dark", "gray", "pink"], "range": ["#131722", "#787b86", "#ff0062"]}}}},
       {"data": {"name": "qlegend"}, "transform": [{"filter": "indexof(datum.t, 'QQE') == 0"}], "mark": {"type": "text", "fontSize": 12.9, "align": "left", "baseline": "middle", "color": "#131722"},
        "encoding": {"x": {"field": "d", "type": "temporal"}, "y": {"field": "p", "type": "quantitative"}, "text": {"field": "t"}}}
     ]},
    {"width": 79, "height": 102,
     "resolve": {"scale": {"color": "independent"}},
     "layer": [
       {"data": {"name": "qtags"}, "transform": [{"filter": "datum.k == 'plain'"}], "mark": {"type": "text", "fontSize": 12, "align": "left", "baseline": "middle", "color": "#131722"},
        "encoding": {"x": {"datum": 0.114, "type": "quantitative", "scale": {"domain": [0, 1]}, "axis": null},
          "y": {"field": "p", "type": "quantitative", "scale": {"domain": [-60.57, 56], "nice": false, "zero": false}, "axis": null}, "text": {"field": "t"}}},
       {"data": {"name": "qtags"}, "transform": [{"filter": "datum.k != 'plain'"}], "mark": {"type": "tick", "orient": "horizontal", "size": 68, "thickness": 16, "cornerRadius": 2, "opacity": 1},
        "encoding": {"x": {"datum": 0.444, "type": "quantitative"}, "y": {"field": "p", "type": "quantitative"},
          "color": {"field": "k", "type": "nominal", "scale": {"domain": ["cyan", "white"], "range": ["#00c3ff", "#ffffff"]}}}},
       {"data": {"name": "qtags"}, "transform": [{"filter": "datum.k != 'plain'"}], "mark": {"type": "text", "fontSize": 12, "align": "left", "baseline": "middle", "color": "#131722"},
        "encoding": {"x": {"datum": 0.114, "type": "quantitative"}, "y": {"field": "p", "type": "quantitative"}, "text": {"field": "t"}}}
     ]},
    {"width": 1181, "height": 29,
     "title": {"text": "TradingView", "orient": "bottom", "anchor": "start", "dx": 39, "offset": 19, "fontSize": 22, "fontWeight": "bold", "color": "#131722"},
     "data": {"values": [{}]},
     "mark": {"type": "point", "opacity": 0},
     "encoding": {
       "x": {"datum": {"year":2025,"month":1,"date":1,"utc":true}, "type": "temporal",
             "scale": {"type": "utc", "domain": [{"year":2024,"month":10,"date":14,"hours":12,"utc":true},{"year":2025,"month":12,"date":9,"hours":14,"utc":true}]},
             "axis": {"orient": "bottom", "values": [{"year":2024,"month":11,"date":1,"utc":true},{"year":2024,"month":12,"date":1,"utc":true},{"year":2025,"month":1,"date":1,"utc":true},{"year":2025,"month":2,"date":1,"utc":true},{"year":2025,"month":3,"date":1,"utc":true},{"year":2025,"month":4,"date":1,"utc":true},{"year":2025,"month":5,"date":1,"utc":true},{"year":2025,"month":6,"date":1,"utc":true},{"year":2025,"month":7,"date":1,"utc":true},{"year":2025,"month":8,"date":1,"utc":true},{"year":2025,"month":9,"date":1,"utc":true},{"year":2025,"month":10,"date":1,"utc":true},{"year":2025,"month":11,"date":1,"utc":true},{"year":2025,"month":12,"date":1,"utc":true}],
                      "labels": true, "grid": false, "labelPadding": -17, "labelBaseline": "middle", "labelAlign": "center", "labelFlush": false, "labelOverlap": false,
                      "labelExpr": "utcFormat(datum.value, '%m') == '01' ? utcFormat(datum.value, '%Y') : utcFormat(datum.value, '%b')"}}
     }},
    {"width": 79, "height": 29, "data": {"values": [{}]}, "mark": {"type": "point", "opacity": 0}}
]
}
